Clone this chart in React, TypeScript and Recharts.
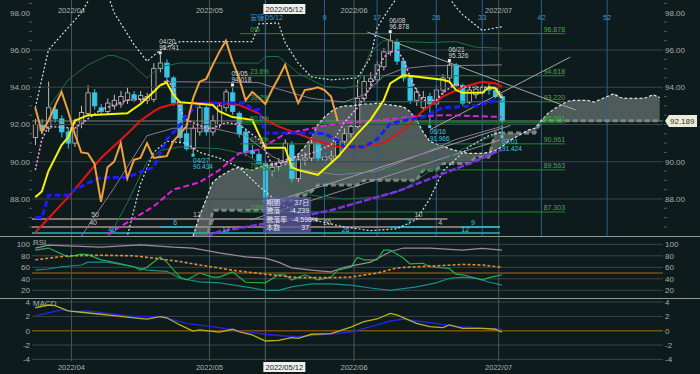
import React from 'react';
import { ComposedChart, Line, Bar, Area, XAxis, YAxis, ReferenceLine, ReferenceDot } from 'recharts';

type Pt = [number, number];

const BG = '#0e1b1d';
const FONT = "'Liberation Sans', 'Noto Sans CJK JP', sans-serif";
const SLOTS = 96; // 72 weekdays (2022/03/24 - 2022/07/01) + 24 forward slots for the cloud

// ---- candles (index 0 = 2022/03/24) ----
const opens = [
  91.3, 92.0, 91.8, 92.8, 92.3, 91.6, 91.0, 92.0, 92.6, 93.7,
  92.9, 92.7, 93.0, 93.1, 93.3, 93.6, 93.35, 93.3, 93.35, 95.0,
  95.3, 94.5, 93.1, 91.5, 90.7, 91.6, 92.9, 91.6, 92.0, 92.9,
  93.7, 92.6, 91.6, 90.6, 90.4, 89.9, 89.5, 89.75, 89.95, 90.9,
  89.1, 90.1, 90.2, 91.0, 90.1, 90.2, 90.3, 91.1, 91.5, 91.9,
  93.4, 94.3, 94.4, 95.1, 95.9, 96.4, 95.4, 94.5, 93.3, 92.9,
  93.5, 93.1, 93.85, 94.5, 95.2, 94.1, 93.2, 93.6, 93.7, 94.0,
  93.85, 93.5,
];
const highs = [
  92.3, 92.3, 94.3, 93.0, 92.5, 91.8, 92.3, 93.0, 94.1, 93.9,
  93.1, 93.4, 93.6, 93.8, 94.0, 93.8, 93.8, 93.7, 95.3, 95.741,
  95.5, 94.6, 93.3, 92.0, 92.0, 93.1, 93.0, 92.5, 93.2, 93.9,
  94.018, 92.7, 91.8, 90.9, 90.6, 90.1, 90.0, 90.2, 91.2, 91.1,
  90.3, 90.5, 91.2, 91.1, 90.5, 90.6, 91.3, 91.8, 92.1, 94.4,
  94.6, 94.8, 95.4, 96.1, 96.878, 96.6, 95.5, 94.6, 94.0, 93.8,
  93.7, 94.1, 94.7, 95.326, 95.3, 94.2, 94.0, 94.1, 94.2, 94.2,
  94.0, 93.6,
];
const lows = [
  90.9, 91.5, 91.6, 92.1, 91.3, 90.7, 90.8, 91.8, 92.4, 92.8,
  92.5, 92.5, 92.8, 92.9, 93.1, 93.2, 93.2, 93.1, 93.2, 94.8,
  94.3, 93.0, 91.0, 90.6, 90.434, 91.4, 91.4, 91.4, 91.8, 92.7,
  92.5, 91.3, 90.3, 90.2, 89.8, 87.7, 89.2, 89.5, 89.8, 88.9,
  88.9, 89.8, 90.0, 90.0, 89.9, 90.0, 90.2, 90.9, 91.3, 91.8,
  93.2, 94.0, 94.2, 94.9, 95.7, 95.2, 94.3, 93.1, 93.0, 92.7,
  91.966, 92.9, 93.6, 94.3, 94.0, 93.0, 93.1, 93.4, 93.5, 93.6,
  93.4, 91.424,
];
const closes = [
  92.0, 91.7, 92.9, 92.3, 91.6, 91.0, 92.0, 92.65, 93.7, 93.0,
  92.7, 93.15, 93.3, 93.5, 93.7, 93.4, 93.55, 93.5, 95.0, 95.3,
  94.55, 93.15, 91.3, 90.7, 91.8, 92.9, 91.6, 92.2, 93.0, 93.75,
  92.7, 91.5, 90.5, 90.45, 89.9, 87.85, 89.7, 90.0, 91.0, 89.1,
  90.1, 90.2, 91.0, 90.2, 90.25, 90.3, 91.1, 91.5, 91.9, 93.4,
  94.3, 94.45, 95.2, 95.9, 96.5, 95.4, 94.5, 93.3, 93.75, 93.45,
  93.1, 93.85, 94.5, 95.2, 94.1, 93.15, 93.85, 93.9, 94.0, 93.85,
  93.5, 92.189,
];

// ---- ichimoku ----
const chikou = [
  92.9, 91.6, 92.2, 93.0, 93.75, 92.7, 91.5, 90.5, 90.45, 89.9,
  87.85, 89.7, 90.0, 91.0, 89.1, 90.1, 90.2, 91.0, 90.2, 90.25,
  90.3, 91.1, 91.5, 91.9, 93.4, 94.3, 94.45, 95.2, 95.9, 96.5,
  95.4, 94.5, 93.3, 93.75, 93.45, 93.1, 93.85, 94.5, 95.2, 94.1,
  93.15, 93.85, 93.9, 94.0, 93.85, 93.5, 92.189,
];
const spanStart = 24;
const spanA = [
  86.0, 87.1, 88.0, 88.9, 89.2, 89.4, 89.6, 89.7, 89.6, 89.55,
  89.7, 89.8, 89.85, 89.9, 90.0, 90.1, 90.4, 90.8, 91.3, 92.0,
  92.4, 92.7, 92.9, 93.0, 93.0, 93.05, 93.1, 93.1, 93.15, 93.1,
  93.05, 93.0, 92.95, 92.7, 92.25, 91.6, 91.1, 90.95, 90.85, 90.7,
  90.6, 90.5, 90.45, 90.45, 90.45, 90.5, 90.6, 90.8, 91.1, 91.3,
  91.5, 91.7, 91.8, 92.2, 92.6, 92.85, 93.05, 93.25, 93.3, 93.3,
  93.3, 93.2, 93.35, 93.5, 93.65, 93.45, 93.4, 93.4, 93.4, 93.45,
  93.6, 93.45,
];
const spanB = [
  85.6, 85.6, 85.6, 87.4, 87.4, 87.4, 87.4, 87.4, 87.4, 87.4,
  87.4, 87.4, 87.4, 87.9, 87.9, 87.9, 88.2, 88.2, 88.4, 88.75,
  88.75, 88.75, 88.75, 88.75, 88.75, 88.75, 89.0, 89.0, 89.0, 89.0,
  89.0, 89.0, 89.0, 89.0, 89.0, 89.55, 89.55, 89.55, 89.9, 89.9,
  89.9, 89.9, 89.9, 90.25, 90.25, 90.25, 91.55, 91.55, 91.55, 91.55,
  91.55, 91.55, 91.55, 92.2, 92.2, 92.2, 92.2, 92.2, 92.2, 92.2,
  92.2, 92.2, 92.2, 92.2, 92.2, 92.2, 92.2, 92.2, 92.2, 92.2,
  92.2, 92.2,
];
const tenkan: Pt[] = [
  [0, 88.1], [1, 88.4], [2, 89.5], [4, 90.9], [5, 91.3], [6, 92.2], [8, 92.5], [14, 92.6], [16, 93.1],
  [18, 93.75], [19, 94.1], [20, 94.25], [21, 93.6], [22, 93.2], [27, 93.05], [28, 92.7], [30, 92.4],
  [33, 92.25], [34, 91.5], [35, 90.75], [38, 90.75], [39, 89.7], [40, 89.55], [43, 89.3], [46, 90.25],
  [49, 91.5], [51, 92.25], [53, 93.3], [54, 94.2], [56, 94.65], [62, 94.4], [63, 94.3], [64, 93.85],
  [65, 93.7], [68, 93.7], [69, 94.0], [70, 93.95], [71, 93.4],
];
const kijun: Pt[] = [
  [0, 87.0], [1, 87.0], [2, 88.2], [5, 88.2], [6, 88.5], [8, 88.85], [10, 89.15], [14, 89.15],
  [16, 89.45], [18, 89.7], [19, 90.45], [20, 91.2], [22, 91.95], [23, 92.5], [25, 93.15], [32, 93.15],
  [33, 92.8], [34, 92.8], [35, 91.55], [42, 91.55], [44, 91.5], [46, 91.15], [47, 90.8], [50, 90.8],
  [52, 91.2], [54, 92.05], [56, 92.2], [59, 92.4], [62, 92.9], [67, 93.0], [70, 93.3], [71, 93.4],
];

// ---- moving averages ----
const maRed: Pt[] = [
  [0, 86.2], [5, 88.1], [10, 90.2], [14, 91.5], [16, 92.2], [18, 92.7], [19, 92.9], [21, 93.1],
  [23, 93.15], [28, 93.15], [31, 93.05], [34, 92.6], [35, 92.25], [37, 91.9], [40, 91.5], [43, 91.1],
  [46, 90.8], [49, 90.8], [53, 91.0], [56, 91.7], [59, 92.75], [62, 93.5], [65, 94.0], [68, 94.3],
  [70, 94.2], [71, 94.05],
];
const maMagenta: Pt[] = [
  [11, 86.1], [18, 87.6], [21, 88.5], [25, 88.9], [28, 89.55], [31, 90.45], [34, 90.65], [38, 91.5],
  [45, 92.0], [53, 92.25], [58, 92.45], [63, 92.5], [71, 92.4],
];
const maViolet: Pt[] = [[26, 86.0], [28, 86.25], [37, 86.8], [45, 87.4], [55, 88.4], [66, 89.9], [71, 90.65]];
const maPink: Pt[] = [
  [0, 89.55], [1, 91.2], [2, 91.9], [6, 91.8], [10, 92.8], [14, 93.3], [17, 93.4], [18, 93.8],
  [20, 94.4], [21, 94.0], [22, 92.8], [23, 92.25], [26, 91.8], [27, 91.8], [29, 92.1], [31, 92.0],
  [34, 91.2], [35, 90.6], [36, 89.85], [39, 90.2], [42, 90.45], [45, 90.9], [47, 92.1], [49, 92.9],
  [51, 94.0], [53, 95.6], [54, 95.9], [55, 96.0], [56, 95.5], [57, 94.6], [58, 93.8], [59, 93.3],
  [61, 93.3], [62, 93.7], [64, 94.2], [65, 94.0], [68, 94.0], [70, 94.0], [71, 93.6],
];

// ---- bollinger style bands ----
const bandUpper2: Pt[] = [
  [0, 92.9], [2, 96.0], [5, 97.2], [7, 98.0], [9, 99.2], [11, 99.0], [12, 98.0], [15, 96.3], [17, 95.4],
  [19, 96.0], [22, 96.45], [33, 96.45], [34, 97.4], [37, 97.45], [38, 96.4], [40, 95.3], [42, 94.55],
  [45, 94.4], [49, 94.5], [51, 95.6], [52, 97.2], [54, 98.3], [56, 99.3], [62, 99.3], [64, 98.3],
  [65, 97.9], [68, 97.05], [71, 97.25],
];
const bandLower2: Pt[] = [
  [10, 84.5], [14, 86.0], [16, 88.8], [18, 90.5], [20, 91.1], [23, 91.0], [25, 90.5], [28, 90.2],
  [31, 89.7], [34, 88.7], [37, 87.8], [42, 86.9], [47, 86.5], [51, 86.3], [55, 86.4], [58, 86.9],
  [60, 88.0], [62, 89.5], [66, 90.8], [69, 91.4], [71, 91.6],
];
const bandUpper1: Pt[] = [
  [2, 92.9], [5, 94.4], [8, 95.2], [11, 95.7], [12, 95.7], [14, 95.45], [17, 94.5], [19, 95.1],
  [22, 95.3], [34, 95.3], [35, 95.65], [37, 95.65], [40, 94.75], [44, 94.05], [47, 93.95], [49, 94.1],
  [51, 95.9], [53, 96.5], [56, 96.45], [60, 96.4], [64, 96.45], [67, 96.15], [71, 96.1],
];
const bandLower1: Pt[] = [
  [11, 85.8], [14, 87.8], [17, 90.0], [19, 90.6], [22, 90.8], [28, 90.7], [32, 90.4], [35, 89.7],
  [38, 88.9], [42, 88.2], [47, 88.0], [52, 88.1], [56, 88.5], [60, 89.5], [64, 90.5], [68, 91.2], [71, 91.5],
];
const bandUpper3: Pt[] = [
  [20, 94.3], [34, 94.25], [37, 93.9], [42, 93.4], [47, 93.2], [50, 93.6], [53, 94.6], [56, 95.0],
  [60, 95.15], [71, 95.2],
];
const bandLower3: Pt[] = [
  [7, 86.0], [12, 88.6], [17, 91.4], [21, 91.8], [27, 91.8], [32, 91.4], [36, 90.3], [40, 89.6],
  [46, 89.3], [52, 89.5], [58, 90.3], [64, 91.2], [71, 91.9],
];

// ---- RSI panel ----
const rsiLong: Pt[] = [
  [0, 93.5], [2, 98.5], [6, 97], [10, 95], [16, 99], [21, 95], [24, 93.5], [28, 85], [32, 78], [35, 76],
  [37, 69], [39, 59], [42, 55], [45, 52], [47, 60], [51, 69], [54, 87], [56, 93.5], [60, 93.5], [65, 90],
  [68, 93], [71, 90],
];
const rsiShort: Pt[] = [
  [0, 90], [2, 93.5], [5, 78], [7, 83], [8, 82], [10, 73], [11, 71], [13, 66], [15, 61], [16, 55], [17, 60],
  [19, 78], [20, 69], [22, 43], [23, 38], [25, 50], [27, 43], [28, 43], [30, 52], [32, 34], [35, 33],
  [37, 47], [38, 47], [39, 38], [41, 47], [43, 38], [45, 43], [46, 55], [48, 60], [49, 77], [50, 73],
  [52, 73], [53, 90], [54, 90], [56, 76], [57, 66], [59, 67], [60, 61], [63, 58], [64, 48], [65, 47],
  [68, 38], [69, 42], [71, 47],
];
const rsiTeal: Pt[] = [
  [0, 55], [2, 57], [4, 61], [7, 64], [8, 69], [11, 69], [15, 61], [17, 55], [20, 53], [22, 41], [25, 34.5],
  [28, 33], [32, 26], [35, 20], [37, 20], [39, 26], [42, 31], [45, 31], [48, 29], [51, 24], [54, 20],
  [58, 26], [61, 33], [63, 41], [65, 43], [67, 41], [69, 34.5], [71, 29],
];
const rsiAvg: Pt[] = [
  [0, 73], [5, 80], [10, 81], [15, 80], [18, 76], [22, 70], [25, 64], [30, 55], [35, 48], [40, 42],
  [45, 42], [48, 43], [52, 50], [55, 59], [60, 62], [65, 65], [68, 64], [71, 60],
];

// ---- MACD panel ----
const macdLine: Pt[] = [
  [0, 3.2], [2, 3.58], [3, 3.5], [5, 2.75], [7, 2.57], [10, 2.29], [12, 2.1], [15, 1.8], [17, 1.6],
  [19, 1.95], [20, 1.8], [22, 0.8], [24, -0.05], [25, 0.1], [28, -0.2], [30, 0.2], [31, -0.14],
  [33, -0.6], [35, -1.44], [37, -1.34], [39, -0.97], [40, -1.06], [42, -0.5], [45, -0.42], [48, 0.5],
  [50, 1.26], [52, 1.63], [54, 2.42], [55, 2.2], [58, 1.03], [60, 0.56], [62, 0.42], [63, 0.8],
  [65, 0.33], [68, 0.33], [70, 0.2], [71, -0.22],
];
const signalLine: Pt[] = [
  [0, 2.05], [4, 2.9], [6, 2.65], [8, 2.75], [15, 1.95], [19, 1.95], [23, 1.03], [28, 0.42], [30, 0.1],
  [35, -0.5], [38, -0.74], [40, -0.84], [43, -0.6], [48, -0.2], [51, 0.56], [54, 1.35], [56, 1.63],
  [58, 1.35], [61, 1.03], [64, 0.56], [67, 0.42], [70, 0.24], [71, 0.2],
];

// ---- axes / annotations ----
const priceTicks = [86.5, 87, 87.5, 88, 88.5, 89, 89.5, 90, 90.5, 91, 91.5, 92, 92.5, 93, 93.5, 94, 94.5, 95, 95.5, 96, 96.5, 97, 97.5, 98, 98.5];
const priceGrid = [88, 90, 92, 94, 96];
const rsiTicks = [20, 40, 60, 80, 100];
const macdTicks = [-4, -2, 0, 2, 4];
const monthStarts = [6, 27, 49, 71];
const monthNames = ['2022/04', '2022/05', '2022/06', '2022/07'];
const baseDay = 35.5;
const cycleCounts = [9, 17, 26, 33, 42, 52];
const fibLevels = [96.878, 94.618, 93.220, 92.091, 90.961, 89.563, 87.303];
const fibNames = ['0%', '23.6%', '38.2%', '50.0%', '61.8%', '76.4%', '100%'];
const lastPrice = 92.189;
const extremes = [
  { i: 19, v: 95.741, date: '04/20', top: true },
  { i: 30, v: 94.018, date: '05/05', top: true },
  { i: 54, v: 96.878, date: '06/08', top: true },
  { i: 63, v: 95.326, date: '06/21', top: true },
  { i: 24, v: 90.434, date: '04/27', top: false },
  { i: 60, v: 91.966, date: '06/16', top: false },
  { i: 71, v: 91.424, date: '07/01', top: false },
];
const infoRows = [['期間', '37日'], ['騰落', '-4.239'], ['騰落率', '-4.598%'], ['本数', '37']];

const P_HI = 98.685, P_LO = 86.013;
const R_HI = 112.7, R_LO = 6.6;
const M_HI = 4.56, M_LO = -4.23;

const FIB_FROM = 31.7, FIB_TO = 81.1;
const COUNT_ROWS = [86.93, 86.5, 86.17];
const countLabels: [number, number, string, string][] = [
  [9.6, 0, '50', '#c8c0b8'], [25.1, 0, '12', '#c8c0b8'], [58.8, 0, '10', '#c8c0b8'],
  [9.3, 1, '40', '#c8c0b8'], [21.8, 1, '6', '#3fc8d8'], [27.4, 1, '7', '#c8c0b8'], [44.9, 1, '20', '#c8c0b8'],
  [57.4, 1, '7', '#3fc8d8'], [62.1, 1, '4', '#c8c0b8'], [67.1, 1, '9', '#3fc8d8'],
  [12.2, 2, '40', '#3fc8d8'], [29.5, 2, '17', '#3fc8d8'], [47.7, 2, '26', '#3fc8d8'], [65.9, 2, '12', '#3fc8d8'],
];
const trendLines = [
  { a: [51.0, 96.97], b: [82.7, 92.78], c: '#b4b4b4' },
  { a: [36.2, 87.79], b: [72.8, 91.95], c: '#a8a8b0' },
  { a: [33.2, 86.87], b: [71.2, 91.17], c: '#9c98a8' },
  { a: [60.6, 91.73], b: [81.9, 95.62], c: '#b4b4b4' },
];

// ---- table ----
const rows: any[] = Array.from({ length: SLOTS }, (_, i) => ({ x: i + 0.5 }));
opens.forEach((o, i) => Object.assign(rows[i], { o, c: closes[i], hi: highs[i], lo: lows[i], range: [lows[i], highs[i]] }));
chikou.forEach((v, i) => { rows[i].chikou = v; });
spanA.forEach((a, k) => {
  const b = spanB[k];
  Object.assign(rows[spanStart + k], { spanA: a, spanB: b, cloud: [Math.min(a, b), Math.max(a, b)] });
});
const put = (key: string, pts: Pt[]) => pts.forEach(([i, v]) => { rows[i][key] = v; });
put('tenkan', tenkan); put('kijun', kijun);
put('maRed', maRed); put('maMagenta', maMagenta); put('maViolet', maViolet); put('maPink', maPink);
put('bu2', bandUpper2); put('bl2', bandLower2); put('bu1', bandUpper1); put('bl1', bandLower1);
put('bu3', bandUpper3); put('bl3', bandLower3);
put('rsiLong', rsiLong); put('rsiShort', rsiShort); put('rsiTeal', rsiTeal); put('rsiAvg', rsiAvg);
put('macd', macdLine); put('signal', signalLine);

const Candle = (p: any) => {
  const d = p.payload;
  if (!d || d.o == null) return null;
  const top = Math.min(p.y, p.y + p.height);
  const h = Math.abs(p.height);
  const k = (v: number) => top + ((d.hi - v) / (d.hi - d.lo || 1)) * h;
  const cx = p.x + p.width / 2;
  const up = d.c >= d.o;
  const col = up ? '#c7baba' : '#36c4e4';
  const bt = k(Math.max(d.o, d.c));
  const bb = k(Math.min(d.o, d.c));
  return (
    <g>
      <line x1={cx} x2={cx} y1={top} y2={top + h} stroke={col} strokeWidth={1} />
      <rect x={cx - 2.2} y={bt} width={4.4} height={Math.max(1, bb - bt)} fill={up ? BG : col} stroke={col} strokeWidth={0.8} />
    </g>
  );
};

const axisTick = (side: 'l' | 'r', fmt: (v: number) => string, major: (v: number) => boolean) => (p: any) => {
  const v = p.payload.value;
  if (!major(v)) return <line x1={p.x - 1} x2={p.x + 2} y1={p.y} y2={p.y} stroke="#4e5b5a" />;
  return (
    <text x={p.x} y={p.y + 3} textAnchor={side === 'l' ? 'end' : 'start'} fontSize={8} fill="#a4adab">{fmt(v)}</text>
  );
};
const isEven = (v: number) => Math.abs(v / 2 - Math.round(v / 2)) < 1e-6;
// on the right the 92.00 label sits under the last-price tag
const isEvenRight = (v: number) => isEven(v) && Math.abs(v - lastPrice) > 0.5;

const topText = (text: string, dy: number, color: string) => (p: any) => (
  <text x={p.viewBox.x} y={p.viewBox.y + dy} textAnchor="middle" fontSize={7.5} fill={color}>{text}</text>
);

const baseLabel = (p: any) => {
  const x = p.viewBox.x, y = p.viewBox.y;
  return (
    <g>
      <rect x={x - 2} y={y + 4} width={42} height={10} fill="#eef0ec" />
      <text x={x + 19} y={y + 12} textAnchor="middle" fontSize={7.5} fill="#222">2022/05/12</text>
      <text x={x - 1} y={y + 20} textAnchor="end" fontSize={7} fill="#3d95d6">安値</text>
      <text x={x} y={y + 20} fontSize={7} fill="#3d95d6">05/12</text>
    </g>
  );
};

const line = (key: string, color: string, width: number, dash?: string) => (
  <Line key={key} dataKey={key} type="linear" stroke={color} strokeWidth={width} strokeDasharray={dash}
    dot={false} activeDot={false} connectNulls isAnimationActive={false} />
);

const noMargin = { top: 0, right: 0, bottom: 0, left: 0 };

export default function App() {
  return (
    <div style={{ position: 'absolute', left: 0, top: 0, width: 700, height: 374, background: BG, overflow: 'hidden', fontFamily: FONT }}>
      {/* price panel */}
      <div style={{ position: 'absolute', left: 0, top: 0 }}>
        <ComposedChart width={700} height={236} data={rows} margin={noMargin}>
          <XAxis type="number" dataKey="x" domain={[0, SLOTS]} hide allowDataOverflow />
          <YAxis domain={[P_LO, P_HI]} allowDataOverflow ticks={priceTicks} interval={0} width={32} tickSize={0} tickMargin={2}
            axisLine={false} tickLine={false} tick={axisTick('l', (v) => v.toFixed(2), isEven)} />
          <YAxis yAxisId="r" orientation="right" domain={[P_LO, P_HI]} allowDataOverflow ticks={priceTicks} interval={0} width={37}
            tickSize={0} tickMargin={2} axisLine={false} tickLine={false} tick={axisTick('r', (v) => v.toFixed(2), isEvenRight)} />

          {priceGrid.map((g) => <ReferenceLine key={'g' + g} y={g} stroke="#394646" />)}
          <ReferenceLine y={lastPrice} stroke="#7c8483" />
          {monthStarts.map((m, k) => (
            <ReferenceLine key={'m' + m} x={m} stroke="#485757" label={topText(monthNames[k], 13, '#aab1af')} />
          ))}
          <ReferenceLine x={baseDay} stroke="#3b6f9e" label={baseLabel} />
          {cycleCounts.map((n) => (
            <ReferenceLine key={'c' + n} x={baseDay + n} stroke="#2b5e8c" label={topText(String(n), 20, '#3d95d6')} />
          ))}

          {COUNT_ROWS.map((y, k) => (
            <ReferenceLine key={'cr' + k} segment={[{ x: 0, y }, { x: k === 0 ? 63.2 : 71.2, y }]}
              stroke={k === 2 ? '#22b4c4' : '#a6958b'} strokeWidth={1.5} />
          ))}
          <ReferenceLine segment={[{ x: 19.5, y: COUNT_ROWS[1] }, { x: 24.5, y: COUNT_ROWS[1] }]} stroke="#22b4c4" strokeWidth={1.5} />
          <ReferenceLine segment={[{ x: 54.5, y: COUNT_ROWS[1] }, { x: 61, y: COUNT_ROWS[1] }]} stroke="#22b4c4" strokeWidth={1.5} />
          <ReferenceLine segment={[{ x: 65.2, y: COUNT_ROWS[1] }, { x: 71.2, y: COUNT_ROWS[1] }]} stroke="#22b4c4" strokeWidth={1.5} />

          <Area dataKey="cloud" type="linear" stroke="none" fill="#a9b4b0" fillOpacity={0.42} connectNulls isAnimationActive={false} activeDot={false} />
          {line('spanB', '#7d8884', 3, '5 3')}
          {line('spanA', '#dfe4e2', 1.2, '3 2')}

          {fibLevels.map((lv) => (
            <ReferenceLine key={'f' + lv} segment={[{ x: FIB_FROM, y: lv }, { x: FIB_TO, y: lv }]} stroke="#1f8a2c" />
          ))}
          {trendLines.map((t, k) => (
            <ReferenceLine key={'t' + k} segment={[{ x: t.a[0], y: t.a[1] }, { x: t.b[0], y: t.b[1] }]} stroke={t.c} strokeWidth={0.9} />
          ))}

          {line('bu3', '#8a7a92', 1)}
          {line('bl3', '#8a7a92', 1)}
          {line('bu1', '#1e6e46', 1)}
          {line('bl1', '#1e6e46', 1)}
          {line('bu2', '#cfe0df', 1.2, '2 2')}
          {line('bl2', '#cfe0df', 1.2, '2 2')}
          {line('maViolet', '#7b33e0', 2.5, '7 2')}
          {line('maMagenta', '#e01fe0', 2, '6 3')}
          {line('maRed', '#e41414', 2)}

          <Bar dataKey="range" barSize={5} shape={Candle} isAnimationActive={false} />

          {line('maPink', '#e9a4e0', 1.6, '2 2')}
          {line('kijun', '#1a1cff', 3, '6 3')}
          {line('tenkan', '#f6f400', 2)}
          {line('chikou', '#f0a040', 2)}

          {fibLevels.map((lv, k) => (
            <ReferenceDot key={'fl' + k} x={FIB_FROM} y={lv} r={0} shape={(p: any) => (
              <text x={p.cx + 10} y={p.cy - 1.5} fontSize={6.5} fill="#3fb040">{fibNames[k]}</text>
            )} />
          ))}
          {fibLevels.map((lv, k) => (
            <ReferenceDot key={'fv' + k} x={FIB_TO} y={lv} r={0} shape={(p: any) => (
              <text x={p.cx} y={p.cy - 1.5} textAnchor="end" fontSize={7} fill="#3fb040">{lv.toFixed(3)}</text>
            )} />
          ))}
          {countLabels.map(([x, r, t, col], k) => (
            <ReferenceDot key={'cl' + k} x={x} y={COUNT_ROWS[r]} r={0} shape={(p: any) => (
              <text x={p.cx} y={p.cy - 1.5} textAnchor="middle" fontSize={7} fill={col}>{t}</text>
            )} />
          ))}
          {extremes.map((e) => (
            <ReferenceDot key={e.date} x={e.i + 0.5} y={e.v} r={0} shape={(p: any) => (
              e.top ? (
                <g>
                  <rect x={p.cx - 1.5} y={p.cy - 3.5} width={3} height={3} fill="#eeeeee" />
                  <text x={p.cx - 1} y={p.cy - 11} fontSize={6.5} fill="#d6d6d6">{e.date}</text>
                  <text x={p.cx - 1} y={p.cy - 4.5} fontSize={6.5} fill="#d6d6d6">{e.v.toFixed(3)}</text>
                </g>
              ) : (
                <g>
                  <rect x={p.cx - 1.5} y={p.cy} width={3} height={3} fill="#3fd0e6" />
                  <text x={p.cx} y={p.cy + 9} fontSize={6.5} fill="#3fc8d8">{e.date}</text>
                  <text x={p.cx} y={p.cy + 15.5} fontSize={6.5} fill="#3fc8d8">{e.v.toFixed(3)}</text>
                </g>
              )
            )} />
          ))}
          <ReferenceDot x={35.17} y={88.11} r={0} shape={(p: any) => (
            <g>
              <rect x={p.cx} y={p.cy} width={48} height={36} fill="#5b5c9c" fillOpacity={0.75} />
              {infoRows.map(([a, b], k) => (
                <g key={a}>
                  <text x={p.cx + 3} y={p.cy + 8 + k * 8.5} fontSize={7} fill="#e6e6f0">{a}</text>
                  <text x={p.cx + (b.endsWith('%') ? 55 : 46)} y={p.cy + 8 + k * 8.5} textAnchor="end" fontSize={7} fill="#e6e6f0">{b}</text>
                </g>
              ))}
            </g>
          )} />
          <ReferenceDot x={SLOTS} y={lastPrice} r={0} shape={(p: any) => (
            <g>
              <path d={`M${p.cx + 2},${p.cy} l4,-6 h28 v12 h-28 z`} fill="#ecebd8" />
              <text x={p.cx + 7} y={p.cy + 3} fontSize={8} fill="#303030">{lastPrice.toFixed(3)}</text>
            </g>
          )} />
        </ComposedChart>
      </div>

      <div style={{ position: 'absolute', left: 0, top: 236, width: 700, height: 1, background: '#8d9a93' }} />

      {/* RSI panel */}
      <div style={{ position: 'absolute', left: 0, top: 237 }}>
        <ComposedChart width={700} height={61} data={rows} margin={noMargin}>
          <XAxis type="number" dataKey="x" domain={[0, SLOTS]} hide allowDataOverflow />
          <YAxis domain={[R_LO, R_HI]} allowDataOverflow ticks={rsiTicks} interval={0} width={32} tickSize={0} tickMargin={2}
            axisLine={false} tickLine={false} tick={axisTick('l', String, () => true)} />
          <YAxis yAxisId="r" orientation="right" domain={[R_LO, R_HI]} allowDataOverflow ticks={rsiTicks} interval={0} width={37}
            tickSize={0} tickMargin={2} axisLine={false} tickLine={false} tick={axisTick('r', String, () => true)} />
          {rsiTicks.map((g) => <ReferenceLine key={'rg' + g} y={g} stroke="#394646" />)}
          <ReferenceLine y={50} stroke="#7a4e12" strokeWidth={1.5} />
          {monthStarts.map((m) => <ReferenceLine key={'rm' + m} x={m} stroke="#485757" />)}
          <ReferenceLine x={baseDay} stroke="#566666" />
          {line('rsiTeal', '#1b8c8a', 1.2)}
          {line('rsiLong', '#9a8aa2', 1.2)}
          {line('rsiShort', '#27b04c', 1.2)}
          {line('rsiAvg', '#e58d2a', 1.6, '3 2')}
        </ComposedChart>
      </div>

      <div style={{ position: 'absolute', left: 0, top: 298, width: 700, height: 1, background: '#8d9a93' }} />

      {/* MACD panel */}
      <div style={{ position: 'absolute', left: 0, top: 298 }}>
        <ComposedChart width={700} height={76} data={rows} margin={noMargin}>
          <XAxis type="number" dataKey="x" domain={[0, SLOTS]} allowDataOverflow height={13} ticks={[...monthStarts, baseDay]}
            interval={0} tickSize={0} tickMargin={0} axisLine={false} tickLine={false}
            tick={(p: any) => {
              const v = p.payload.value;
              if (v === baseDay) {
                return (
                  <g>
                    <rect x={p.x - 2} y={p.y + 1} width={42} height={10} fill="#eef0ec" />
                    <text x={p.x + 19} y={p.y + 9} textAnchor="middle" fontSize={7.5} fill="#222">2022/05/12</text>
                  </g>
                );
              }
              return <text x={p.x} y={p.y + 9} textAnchor="middle" fontSize={7.5} fill="#aab1af">{monthNames[monthStarts.indexOf(v)]}</text>;
            }} />
          <YAxis domain={[M_LO, M_HI]} allowDataOverflow ticks={macdTicks} interval={0} width={32} tickSize={0} tickMargin={2}
            axisLine={false} tickLine={false} tick={axisTick('l', String, () => true)} />
          <YAxis yAxisId="r" orientation="right" domain={[M_LO, M_HI]} allowDataOverflow ticks={macdTicks} interval={0} width={37}
            tickSize={0} tickMargin={2} axisLine={false} tickLine={false} tick={axisTick('r', String, () => true)} />
          {macdTicks.filter((g) => g !== 0).map((g) => <ReferenceLine key={'mg' + g} y={g} stroke="#394646" />)}
          <ReferenceLine y={0} stroke="#7a4e12" strokeWidth={1.5} />
          {monthStarts.map((m) => <ReferenceLine key={'mm' + m} x={m} stroke="#485757" />)}
          <ReferenceLine x={baseDay} stroke="#566666" />
          {line('signal', '#2424e6', 1.3)}
          {line('macd', '#b8b21e', 1.3)}
        </ComposedChart>
      </div>

      <div style={{ position: 'absolute', left: 33, top: 238, fontSize: 8, color: '#a4adab' }}>RSI</div>
      <div style={{ position: 'absolute', left: 33, top: 299, fontSize: 8, color: '#a4adab' }}>MACD</div>
    </div>
  );
}
